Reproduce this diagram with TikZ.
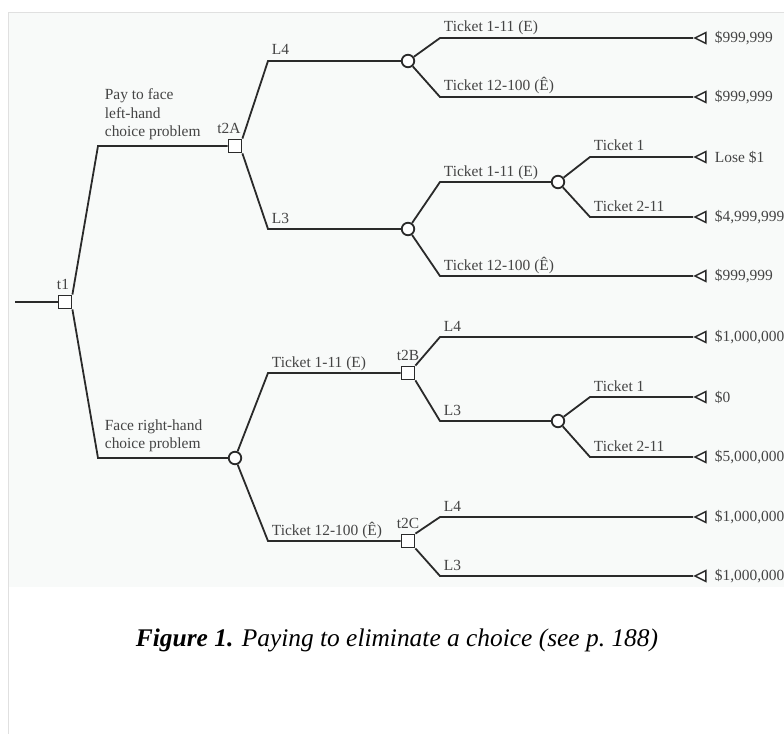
\documentclass[tikz,border=0pt]{standalone}
\usepackage{fontspec}
\setmainfont{Liberation Serif}
\usetikzlibrary{shapes.geometric}
\definecolor{edgegray}{HTML}{2A2A2A}
\definecolor{txtgray}{HTML}{444444}
\definecolor{panel}{HTML}{F8FAF9}
\definecolor{rulegray}{HTML}{E0E0E0}
\tikzset{
  br/.style={draw=edgegray,line width=1.8bp},
  dec/.style={draw=edgegray,fill=white,rectangle,minimum size=13bp,inner sep=0pt,line width=1.8bp},
  chc/.style={draw=edgegray,fill=white,circle,minimum size=12.5bp,inner sep=0pt,line width=1.8bp},
  term/.style={draw=edgegray,fill=white,isosceles triangle,isosceles triangle stretches,shape border rotate=180,minimum width=11bp,minimum height=11bp,inner sep=0pt,anchor=apex,line width=1.5bp},
  tlab/.style={text=txtgray,font=\fontsize{15.5}{18.8}\selectfont,inner sep=0pt,yshift=5bp},
  pay/.style={text=txtgray,font=\fontsize{15.5}{18.8}\selectfont,inner sep=0pt,xshift=8bp},
  lbl/.style={text=txtgray,font=\fontsize{15.5}{18.8}\selectfont,inner sep=0pt,anchor=base west,xshift=3bp,yshift=6bp},
  lbl2/.style={text=txtgray,font=\fontsize{15.5}{18.8}\selectfont,inner sep=0pt,anchor=south west,align=left,xshift=6bp,yshift=5bp}
}
\begin{document}
\begin{tikzpicture}[x=1bp,y=-1bp]
\useasboundingbox (0,0) rectangle (784,734);
\fill[panel] (9,13) rectangle (784,587);
\draw[rulegray] (8,734) -- (8,12) -- (784,12);
% columns of the knees
\coordinate (k1) at (98,0);\coordinate (k2) at (268,0);
\coordinate (k3) at (440,0);\coordinate (k4) at (590,0);
\coordinate (in) at (15,302);
% decision and chance nodes
\node[dec,label={[tlab,xshift=-2bp]above:t1}] (t1) at (65,302) {};
\node[dec,label={[tlab,xshift=-6bp]above:t2A}] (t2A) at (235,146) {};
\node[chc] (r) at (235,458) {};
\node[chc] (a1) at (408,61) {};
\node[chc] (a2) at (408,229) {};
\node[chc] (a3) at (558,182) {};
\node[dec,label={[tlab]above:t2B}] (t2B) at (408,373) {};
\node[dec,label={[tlab]above:t2C}] (t2C) at (408,541) {};
\node[chc] (b1) at (558,421) {};
% end points
\node[term,label={[pay]0:\$999,999}] (e1) at (693,38) {};
\node[term,label={[pay]0:\$999,999}] (e2) at (693,97) {};
\node[term,label={[pay]0:Lose \$1}] (e3) at (693,157) {};
\node[term,label={[pay]0:\$4,999,999}] (e4) at (693,217) {};
\node[term,label={[pay]0:\$999,999}] (e5) at (693,276) {};
\node[term,label={[pay]0:\$1,000,000}] (e6) at (693,337) {};
\node[term,label={[pay]0:\$0}] (e7) at (693,397) {};
\node[term,label={[pay]0:\$5,000,000}] (e8) at (693,457) {};
\node[term,label={[pay]0:\$1,000,000}] (e9) at (693,517) {};
\node[term,label={[pay]0:\$1,000,000}] (e10) at (693,576) {};
% branches
\draw[br] (in) -- (t1);
\draw[br] (t1.north east) -- (k1 |- t2A) node[lbl2]{Pay to face\\left-hand\\choice problem} -- (t2A);
\draw[br] (t1.south east) -- (k1 |- r) node[lbl2]{Face right-hand\\choice problem} -- (r);
\draw[br] (t2A.north east) -- (k2 |- a1) node[lbl]{L4} -- (a1);
\draw[br] (t2A.south east) -- (k2 |- a2) node[lbl]{L3} -- (a2);
\draw[br] (a1) -- (k3 |- e1) node[lbl]{Ticket 1-11 (E)} -- (e1.apex);
\draw[br] (a1) -- (k3 |- e2) node[lbl]{Ticket 12-100 (Ê)} -- (e2.apex);
\draw[br] (a2) -- (k3 |- a3) node[lbl]{Ticket 1-11 (E)} -- (a3);
\draw[br] (a2) -- (k3 |- e5) node[lbl]{Ticket 12-100 (Ê)} -- (e5.apex);
\draw[br] (a3) -- (k4 |- e3) node[lbl]{Ticket 1} -- (e3.apex);
\draw[br] (a3) -- (k4 |- e4) node[lbl]{Ticket 2-11} -- (e4.apex);
\draw[br] (r) -- (k2 |- t2B) node[lbl]{Ticket 1-11 (E)} -- (t2B);
\draw[br] (r) -- (k2 |- t2C) node[lbl]{Ticket 12-100 (Ê)} -- (t2C);
\draw[br] (t2B.north east) -- (k3 |- e6) node[lbl]{L4} -- (e6.apex);
\draw[br] (t2B.south east) -- (k3 |- b1) node[lbl]{L3} -- (b1);
\draw[br] (b1) -- (k4 |- e7) node[lbl]{Ticket 1} -- (e7.apex);
\draw[br] (b1) -- (k4 |- e8) node[lbl]{Ticket 2-11} -- (e8.apex);
\draw[br] (t2C.north east) -- (k3 |- e9) node[lbl]{L4} -- (e9.apex);
\draw[br] (t2C.south east) -- (k3 |- e10) node[lbl]{L3} -- (e10.apex);
% caption
\node[font=\fontsize{25.5}{30}\selectfont\itshape] (cap) at (397,640) {\textbf{Figure 1.} Paying to eliminate a choice (see p.~188)};
\end{tikzpicture}
\end{document}
